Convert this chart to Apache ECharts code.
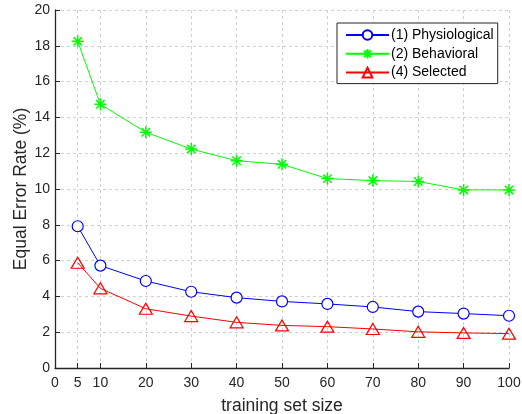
<!DOCTYPE html>
<html>
<head>
<meta charset="utf-8">
<script src="https://cdn.jsdelivr.net/npm/echarts@6/dist/echarts.min.js"></script>
<style>html,body{margin:0;padding:0;background:#fff;}#c{width:522px;height:414px;}</style>
</head>
<body>
<div id="c"></div>
<script>
var xValues = [5, 10, 20, 30, 40, 50, 60, 70, 80, 90, 100];
var physiological = [7.92, 5.72, 4.86, 4.26, 3.93, 3.72, 3.58, 3.41, 3.15, 3.04, 2.92];
var behavioral = [18.25, 14.73, 13.17, 12.23, 11.58, 11.38, 10.58, 10.47, 10.42, 9.95, 9.95];
var selected = [5.88, 4.45, 3.31, 2.9, 2.55, 2.38, 2.31, 2.18, 2.02, 1.96, 1.92];
var xTicks = [0, 5, 10, 20, 30, 40, 50, 60, 70, 80, 90, 100];
var seriesNames = ['(1) Physiological', '(2) Behavioral', '(4) Selected'];

var FONT = "'Liberation Sans', Arial, sans-serif";
var TXT = '#262626';
var asterisk = 'path://M0,-10L0,10M-10,0L10,0M-7,-7L7,7M-7,7L7,-7';

function pairs(arr) { return xValues.map(function (x, i) { return [x, arr[i]]; }); }

var chart = echarts.init(document.getElementById('c'), null, {renderer: 'canvas'});
chart.setOption({
  animation: false,
  backgroundColor: '#fff',
  textStyle: {fontFamily: FONT},
  grid: {left: 55, right: 13, top: 10, bottom: 46, containLabel: false, outerBoundsMode: 'none'},
  legend: {
    orient: 'vertical',
    left: 337, top: 23,
    padding: [5, 4, 4, 8],
    itemGap: 4.5,
    itemWidth: 43, itemHeight: 12,
    borderColor: '#262626', borderWidth: 1, borderRadius: 0,
    backgroundColor: '#fff',
    textStyle: {fontSize: 14, color: '#000', fontFamily: FONT, padding: [0, 0, 0, -3]},
    data: seriesNames
  },
  xAxis: {
    type: 'value', min: 0, max: 100,
    name: 'training set size', nameLocation: 'middle', nameGap: 29, nameMoveOverlap: false,
    nameTextStyle: {fontSize: 17.5, color: TXT, fontFamily: FONT},
    axisLine: {lineStyle: {color: TXT, width: 1.3}},
    axisTick: {inside: true, length: 5, lineStyle: {color: TXT}, customValues: xTicks},
    axisLabel: {fontSize: 14, color: TXT, margin: 8, customValues: xTicks, fontFamily: FONT},
    splitLine: {show: true, lineStyle: {color: '#d0d0d0', type: [3, 3], width: 1}}
  },
  yAxis: {
    type: 'value', min: 0, max: 20, interval: 2,
    name: 'Equal Error Rate (%)', nameLocation: 'middle', nameGap: 25, nameMoveOverlap: false,
    nameTextStyle: {fontSize: 17.5, color: TXT, fontFamily: FONT},
    axisLine: {show: true, lineStyle: {color: TXT, width: 1.3}},
    axisTick: {show: true, inside: true, length: 5, lineStyle: {color: TXT}},
    axisLabel: {fontSize: 14, color: TXT, margin: 5, fontFamily: FONT},
    splitLine: {show: true, lineStyle: {color: '#d0d0d0', type: [3, 3], width: 1}}
  },
  series: [
    {
      name: seriesNames[0], type: 'line', data: pairs(physiological),
      symbol: 'circle', symbolSize: 11,
      lineStyle: {color: '#0000ff', width: 1},
      itemStyle: {color: '#ffffff', borderColor: '#0000ff', borderWidth: 1.2},
      color: '#0000ff'
    },
    {
      name: seriesNames[1], type: 'line', data: pairs(behavioral),
      symbol: asterisk, symbolSize: 12,
      lineStyle: {color: '#00ff00', width: 1},
      itemStyle: {color: 'none', borderColor: '#00ff00', borderWidth: 1.5},
      color: '#00ff00'
    },
    {
      name: seriesNames[2], type: 'line', data: pairs(selected),
      symbol: 'triangle', symbolSize: [13, 11],
      lineStyle: {color: '#ff0000', width: 1},
      itemStyle: {color: 'rgba(255,255,255,0)', borderColor: '#ff0000', borderWidth: 1.2},
      color: '#ff0000'
    }
  ]
});
</script>
</body>
</html>
